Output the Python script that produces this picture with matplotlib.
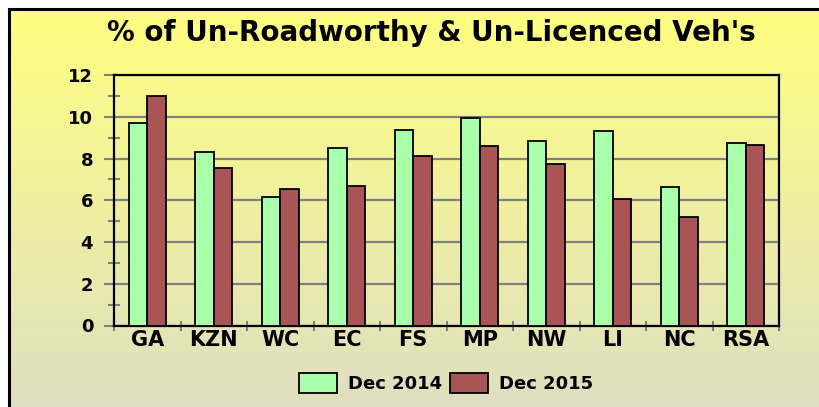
import numpy as np
import matplotlib
matplotlib.use("Agg")
import matplotlib.pyplot as plt
from matplotlib.lines import Line2D
from matplotlib.colors import to_rgb

categories = ["GA", "KZN", "WC", "EC", "FS", "MP", "NW", "LI", "NC", "RSA"]
dec_2014 = [9.7, 8.33, 6.15, 8.52, 9.35, 9.95, 8.83, 9.32, 6.63, 8.74]
dec_2015 = [11.0, 7.53, 6.55, 6.69, 8.1, 8.62, 7.72, 6.06, 5.22, 8.64]
series_names = ["Dec 2014", "Dec 2015"]
title = "% of Un-Roadworthy & Un-Licenced Veh's"
yticks = [0, 2, 4, 6, 8, 10, 12]

plt.rcParams['font.family'] = ['DejaVu Sans']
plt.rcParams['font.weight'] = 'bold'

W, H = 820, 407
fig = plt.figure(figsize=(W / 100, H / 100), dpi=100, facecolor="white")

# gradient background
bx0 = 9 / W
by1 = 1 - 8.5 / H
bg = fig.add_axes([bx0, 0, 1 - bx0, by1], zorder=0)
top = np.array(to_rgb("#FFFF80"))
bot = np.array(to_rgb("#DFDFC2"))
t = np.linspace(0, 1, 256)[:, None]
grad = (top * (1 - t) + bot * t)[:, None, :]
bg.imshow(grad, aspect="auto", extent=[0, 1, 0, 1])
bg.axis("off")

# frame lines (left and top only)
fig.add_artist(Line2D([bx0, bx0], [0, by1], transform=fig.transFigure, color="black", lw=2.2, zorder=5))
fig.add_artist(Line2D([bx0, 1], [by1, by1], transform=fig.transFigure, color="black", lw=2.2, zorder=5))

ax = fig.add_axes([114 / W, 1 - 325.5 / H, (779 - 114) / W, (325.5 - 75) / H], zorder=2)
ax.set_facecolor("none")

x = np.arange(len(categories))
w = 0.28
ax.bar(x - w / 2, dec_2014, width=w, color="#AAFFAA", edgecolor="black", lw=1.3, label=series_names[0], zorder=3)
ax.bar(x + w / 2, dec_2015, width=w, color="#AA5555", edgecolor="black", lw=1.3, label=series_names[1], zorder=3)

ax.set_xlim(-0.5, len(categories) - 0.5)
ax.set_ylim(0, 12)
ax.set_yticks(yticks)
ax.set_yticks(np.arange(1, 12, 2), minor=True)
ax.set_xticks(x)
ax.set_xticklabels(categories)
ax.set_xticks(np.arange(-0.5, len(categories), 1), minor=True)

ax.tick_params(axis="x", which="major", length=0, pad=3, labelsize=15)
ax.tick_params(axis="x", which="minor", direction="inout", length=7, width=1.5, color="#808080")
ax.tick_params(axis="y", which="major", direction="out", length=7, width=1.5, color="#808080", pad=8, labelsize=13)
ax.tick_params(axis="y", which="minor", direction="inout", length=9, width=1.5, color="#808080")
for lab in ax.get_xticklabels() + ax.get_yticklabels():
    lab.set_fontweight("bold")

ax.yaxis.grid(True, which="major", color="#808080", lw=1.6)
ax.set_axisbelow(True)
for s in ax.spines.values():
    s.set_color("black")
    s.set_linewidth(1.6)

fig.text(431 / W, 1 - 33 / H, title, ha="center", va="center", fontsize=20, fontweight="bold", zorder=6)

leg = fig.legend(loc="center", bbox_to_anchor=(446 / W, 1 - 383 / H), ncol=2, frameon=False,
                 prop={"size": 13, "weight": "bold"}, handlelength=2.1, handleheight=1.3,
                 handletextpad=0.6, columnspacing=0.45)

fig.savefig("out.png", dpi=100, facecolor="white")
